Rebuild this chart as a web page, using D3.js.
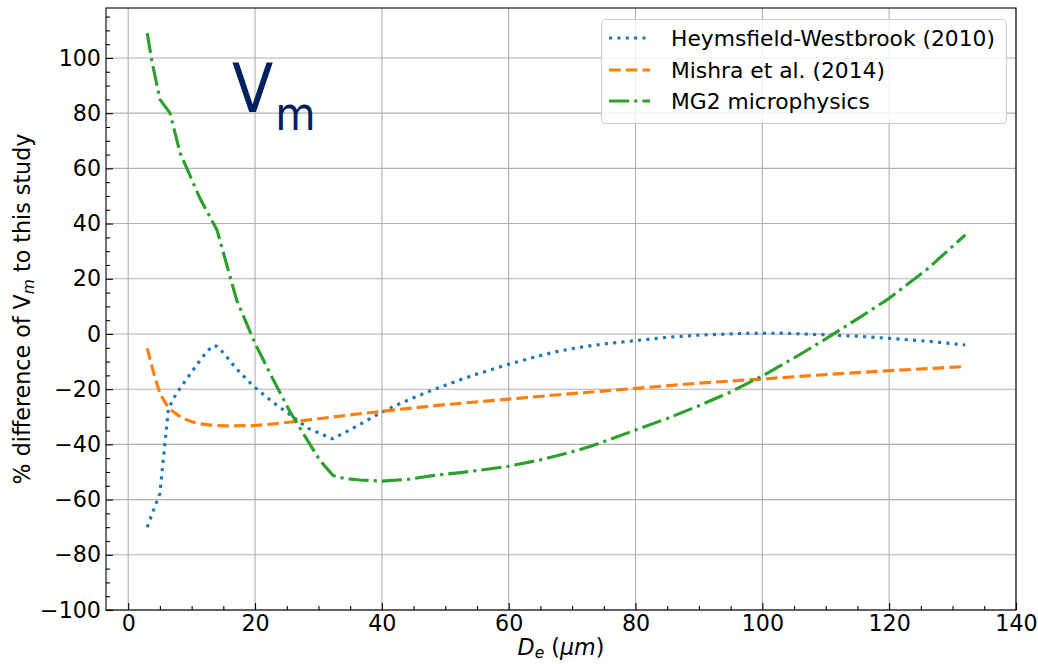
<!DOCTYPE html>
<html>
<head>
<meta charset="utf-8">
<script src="https://cdn.jsdelivr.net/npm/d3@7"></script>
<style>
  html, body { margin: 0; padding: 0; background: #fff; }
  svg { display: block; font-family: "DejaVu Sans", sans-serif; }
</style>
</head>
<body>
<svg id="chart" width="1038" height="664"></svg>
<script>
// Effective diameter De (µm) and % difference of Vm for each parameterisation
const hwDe   = [3, 3.8, 5, 6.35, 7.6, 9.1, 10.8, 12.4, 13.4, 14, 15.1, 16.9, 19.7, 22.9, 25.2, 28.4, 32.2, 34.4, 36.8, 39.2, 41.8, 45, 48, 52, 55, 60, 64, 67.5, 71, 75, 80, 85, 90, 97, 103, 110, 115, 120, 126, 132];
const hwPct  = [-70, -65, -57.8, -27, -21.5, -16.7, -11.2, -6.4, -4.2, -4.5, -7, -12.2, -18.8, -24.9, -28.7, -34.2, -38, -35.4, -32.4, -29.3, -26.3, -23.1, -20.3, -16.9, -14.5, -11, -8.4, -6.4, -4.9, -3.6, -2.4, -1.2, -0.4, 0.2, 0.3, -0.3, -0.8, -1.6, -2.6, -4];

const miDe   = [3, 4, 5, 6, 7, 8.5, 10.8, 13, 15, 19.7, 22, 26, 30, 35, 42.8, 50, 60, 70, 80, 90, 100, 110, 120, 132];
const miPct  = [-5.2, -14, -21.5, -25.5, -28, -30.5, -32.4, -33, -33.3, -33.2, -32.8, -31.8, -30.7, -29.3, -27.3, -25.6, -23.6, -21.6, -19.7, -17.8, -16.3, -14.7, -13.3, -11.8];

const mgDe   = [3, 3.7, 5, 6.6, 8.2, 11.3, 14, 17.1, 20, 22.9, 25.5, 28.4, 30.2, 32.3, 34, 36.5, 40, 44, 48, 52, 56, 60, 65, 70, 72.8, 76, 80, 85, 90, 95, 100, 105, 110, 115, 120, 126, 132];
const mgPct  = [109, 99.3, 85, 80, 65.5, 49.2, 37.7, 12.3, -3.4, -16.7, -28.1, -39, -45.7, -51.3, -52.3, -52.9, -53.3, -52.7, -51.3, -50.3, -49.2, -47.9, -45.6, -42.7, -40.8, -38.2, -34.8, -30.6, -26, -21, -15.2, -8.7, -1.8, 5.5, 12.9, 23.5, 35.9];

const seriesNames = ["Heymsfield-Westbrook (2010)", "Mishra et al. (2014)", "MG2 microphysics"];
const xTicks = [0, 20, 40, 60, 80, 100, 120, 140];
const yTicks = [-100, -80, -60, -40, -20, 0, 20, 40, 60, 80, 100];

const svg = d3.select("#chart");
const L = 106, R = 1016, T = 8, B = 610;
const FS = 22.2;     // tick and axis-label size
const FSL = 21.8;    // legend text size

const x = d3.scaleLinear().domain([-3.5, 140]).range([L, R]);
const y = d3.scaleLinear().domain([-100, 118.1]).range([B, T]);

const lw = 3.15;
const styles = [
  { color: "#1f77b4", dash: [lw, 1.65 * lw] },
  { color: "#ff7f0e", dash: [3.7 * lw, 1.6 * lw] },
  { color: "#2ca02c", dash: [6.4 * lw, 1.6 * lw, 1.0 * lw, 1.6 * lw] }
];

// grid
const grid = svg.append("g").attr("stroke", "#b0b0b0").attr("stroke-width", 1.1);
xTicks.forEach(t => {
  grid.append("line").attr("x1", x(t)).attr("x2", x(t)).attr("y1", T).attr("y2", B);
});
yTicks.forEach(t => {
  grid.append("line").attr("x1", L).attr("x2", R).attr("y1", y(t)).attr("y2", y(t));
});

// clip for data lines
svg.append("clipPath").attr("id", "plotclip")
  .append("rect").attr("x", L).attr("y", T).attr("width", R - L).attr("height", B - T);

const line = d3.line().x(d => x(d[0])).y(d => y(d[1]));
const data = [
  d3.zip(hwDe, hwPct),
  d3.zip(miDe, miPct),
  d3.zip(mgDe, mgPct)
];

const lines = svg.append("g").attr("clip-path", "url(#plotclip)");
data.forEach((d, i) => {
  lines.append("path")
    .attr("d", line(d))
    .attr("fill", "none")
    .attr("stroke", styles[i].color)
    .attr("stroke-width", lw)
    .attr("stroke-dasharray", styles[i].dash.join(","))
    .attr("stroke-linecap", "butt")
    .attr("stroke-linejoin", "round");
});

// axes with inward ticks
const xAxis = d3.axisBottom(x).tickValues(xTicks).tickSizeInner(-7).tickSizeOuter(0).tickFormat(d3.format("d")).tickPadding(5);
const xMinor = d3.axisBottom(x).tickValues(d3.range(0, 141, 5).filter(v => v % 20 !== 0)).tickSizeInner(-4).tickSizeOuter(0).tickFormat("");
const fmtY = v => (v < 0 ? "\u2212" + Math.abs(v) : String(v));
const yAxis = d3.axisLeft(y).tickValues(yTicks).tickSizeInner(-7).tickSizeOuter(0).tickFormat(fmtY).tickPadding(5);
const yMinor = d3.axisLeft(y).tickValues(d3.range(-95, 118, 5).filter(v => v % 20 !== 0)).tickSizeInner(-4).tickSizeOuter(0).tickFormat("");

function styleAxis(g) {
  g.select(".domain").remove();
  g.selectAll(".tick line").attr("stroke", "#000").attr("stroke-width", 1.1);
  g.selectAll(".tick text").attr("fill", "#000").attr("font-size", FS).attr("font-family", "DejaVu Sans, sans-serif");
}
svg.append("g").attr("transform", `translate(0,${B})`).call(xAxis).call(styleAxis);
svg.append("g").attr("transform", `translate(0,${B})`).call(xMinor).call(styleAxis);
svg.append("g").attr("transform", `translate(${L},0)`).call(yAxis).call(styleAxis);
svg.append("g").attr("transform", `translate(${L},0)`).call(yMinor).call(styleAxis);

// frame
svg.append("rect").attr("x", L).attr("y", T).attr("width", R - L).attr("height", B - T)
  .attr("fill", "none").attr("stroke", "#000").attr("stroke-width", 1.1);

// axis labels
const xl = svg.append("text").attr("x", (L + R) / 2).attr("y", 655).attr("text-anchor", "middle")
  .attr("font-size", FS).attr("fill", "#000");
xl.append("tspan").attr("font-style", "italic").text("D");
xl.append("tspan").attr("font-style", "italic").attr("font-size", FS * 0.7).attr("dy", 3).text("e");
xl.append("tspan").attr("dy", -3).text(" (");
xl.append("tspan").attr("font-style", "italic").text("\u03bcm");
xl.append("tspan").text(")");

const yl = svg.append("text").attr("transform", `translate(30,${(T + B) / 2}) rotate(-90)`)
  .attr("text-anchor", "middle").attr("font-size", FS).attr("fill", "#000");
yl.append("tspan").text("% difference of V");
yl.append("tspan").attr("font-style", "italic").attr("font-size", FS * 0.7).attr("dy", 4).text("m");
yl.append("tspan").attr("dy", -4).text(" to this study");

// panel title
const vt = svg.append("text").attr("x", 232).attr("y", 112).attr("fill", "#002060")
  .attr("font-family", "DejaVu Sans Condensed, DejaVu Sans, sans-serif").attr("font-size", 67);
vt.append("tspan").text("V");
vt.append("tspan").attr("font-size", 46).attr("dy", 18).attr("dx", 2).text("m");

// legend
const lg = svg.append("g");
lg.append("rect").attr("x", 601.5).attr("y", 19.5).attr("width", 405).attr("height", 104).attr("rx", 4)
  .attr("fill", "#fff").attr("fill-opacity", 0.8).attr("stroke", "#cccccc").attr("stroke-width", 1.1);
const rowY = [38, 70, 101];
seriesNames.forEach((name, i) => {
  lg.append("line").attr("x1", 609).attr("x2", 650).attr("y1", rowY[i]).attr("y2", rowY[i])
    .attr("stroke", styles[i].color).attr("stroke-width", lw)
    .attr("stroke-dasharray", styles[i].dash.join(","));
  lg.append("text").attr("x", 671).attr("y", rowY[i]).attr("dy", "0.36em")
    .attr("font-size", FSL).attr("fill", "#000").text(name);
});
</script>
</body>
</html>
